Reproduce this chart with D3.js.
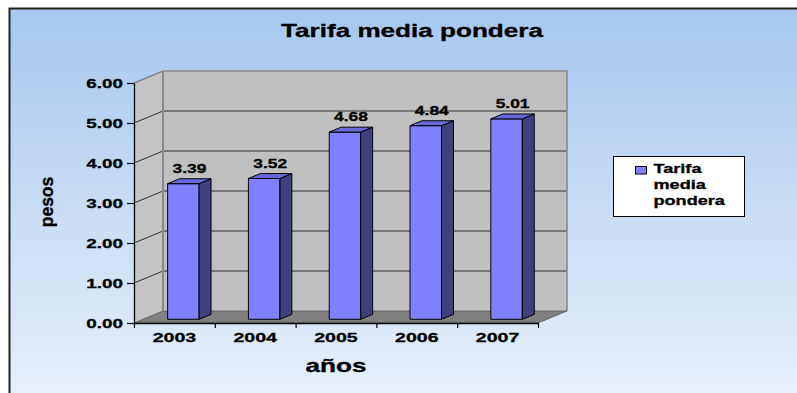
<!DOCTYPE html>
<html><head><meta charset="utf-8">
<script src="https://cdn.jsdelivr.net/npm/d3@7"></script>
<style>html,body{margin:0;padding:0;background:#fff;overflow:hidden}</style>
</head><body><svg id="chart" width="797" height="393"></svg>
<script>
// ---- data ----
const years = ["2003", "2004", "2005", "2006", "2007"];
const tarifa = [3.39, 3.52, 4.68, 4.84, 5.01];
const yTicks = [0, 1, 2, 3, 4, 5, 6];
const chartTitle = "Tarifa media pondera";
const legendLines = ["Tarifa", "media", "pondera"];
const xTitle = "años";
const yTitle = "pesos";

// ---- setup ----
const W = 797, H = 393;
const svg = d3.select("#chart");
const FONT = "'Liberation Sans', Arial, sans-serif";
const SX = 1.45; // wide lettering
const HEAVY = 0.3; // extra stroke on bold text

const defs = svg.append("defs");
const grad = defs.append("linearGradient").attr("id", "bg")
  .attr("gradientUnits", "userSpaceOnUse")
  .attr("x1", 0).attr("y1", 9).attr("x2", 0).attr("y2", H);
grad.append("stop").attr("offset", 0).attr("stop-color", "#a6c8ef");
grad.append("stop").attr("offset", 1).attr("stop-color", "#e7effa");

svg.append("rect").attr("x", 9.5).attr("y", 8.5).attr("width", W).attr("height", H)
  .attr("fill", "url(#bg)").attr("stroke", "#222").attr("stroke-width", 2);

function heavy(sel) {
  return sel.style("font-family", FONT).style("font-weight", "bold")
    .attr("fill", "#000").attr("stroke", "#000").attr("stroke-width", HEAVY);
}

function label(g, x, y, s, size, anchor) {
  return heavy(g.append("text")
    .attr("transform", `translate(${x},${y}) scale(${SX},1)`)
    .attr("text-anchor", anchor || "middle")
    .style("font-size", size + "px").text(s));
}

// ---- plot geometry (front plane + depth offset) ----
const plot = { left: 134, right: 538, top: 83, bottom: 323 };
const depth = { dx: 29, dy: 12 };
const x = d3.scaleBand().domain(years).range([plot.left, plot.right]);
const y = d3.scaleLinear().domain([0, 6]).range([plot.bottom, plot.top]);
const P = (px, py, f) => [px + depth.dx * f, py - depth.dy * f];
const poly = pts => "M" + pts.map(p => p.join(",")).join("L") + "Z";

const L = plot.left, R = plot.right, yTop = y(6), yBot = y(0);

// walls
const walls = svg.append("g");
walls.append("path").attr("d", poly([P(L, yTop, 1), P(R, yTop, 1), P(R, yBot, 1), P(L, yBot, 1)]))
  .attr("fill", "#c0c0c0");
walls.append("path").attr("d", poly([P(L, yTop, 0), P(L, yTop, 1), P(L, yBot, 1), P(L, yBot, 0)]))
  .attr("fill", "#c4c4c4");

// gridlines on side and back walls
const grid = svg.append("g").attr("stroke", "#333").attr("stroke-width", 1).attr("fill", "none");
yTicks.filter(v => v > 0 && v < 6).forEach(v => {
  grid.append("path").attr("d", "M" + P(L, y(v), 0) + "L" + P(L, y(v), 1) + "L" + P(R, y(v), 1));
});

// wall edges
const edges = svg.append("g").attr("stroke", "#888").attr("fill", "none");
edges.append("path").attr("stroke-width", 1.5)
  .attr("d", "M" + P(L, yTop, 0) + "L" + P(L, yTop, 1) + "L" + P(R, yTop, 1) + "L" + P(R, yBot, 1));
edges.append("path").attr("stroke-width", 2)
  .attr("d", "M" + P(L, yTop, 1) + "L" + P(L, yBot, 1));

// floor
svg.append("path").attr("d", poly([P(L, yBot, 0), P(R, yBot, 0), P(R, yBot, 1), P(L, yBot, 1)]))
  .attr("fill", "#808080").attr("stroke", "#555").attr("stroke-width", 0.8);

// ---- bars ----
const f0 = 0.31, f1 = 0.72;
const barW = x.bandwidth() * 0.39;
const bars = svg.append("g").attr("stroke", "#000").attr("stroke-width", 1).attr("stroke-linejoin", "round");
years.forEach((yr, i) => {
  const v = tarifa[i];
  const x0 = x(yr) + (x.bandwidth() - barW) / 2, x1 = x0 + barW;
  const yv = y(v);
  bars.append("path").attr("fill", "#8080ff")
    .attr("d", poly([P(x0, yv, f0), P(x1, yv, f0), P(x1, yBot, f0), P(x0, yBot, f0)]));
  bars.append("path").attr("fill", "#40407f")
    .attr("d", poly([P(x1, yv, f0), P(x1, yv, f1), P(x1, yBot, f1), P(x1, yBot, f0)]));
  bars.append("path").attr("fill", "#6868d8")
    .attr("d", poly([P(x0, yv, f0), P(x1, yv, f0), P(x1, yv, f1), P(x0, yv, f1)]));
  const top = P(x0 + barW / 2, yv, f1);
  label(svg, x0 + barW / 2 + depth.dx * f0 + 6, top[1] - 6, d3.format(".2f")(v), 12);
});

// ---- axes ----
const yAxis = svg.append("g").attr("transform", `translate(${L},0)`)
  .call(d3.axisLeft(y).tickValues(yTicks).tickFormat(d3.format(".2f")).tickSize(7).tickPadding(4).tickSizeOuter(0));
yAxis.select(".domain").attr("stroke", "#000").attr("stroke-width", 1.3);
yAxis.selectAll(".tick line").attr("stroke", "#000").attr("stroke-width", 1.2);
heavy(yAxis.selectAll(".tick text")
  .attr("x", -11 / SX).attr("transform", `scale(${SX},1)`)
  .style("font-size", "13px"));

const boundary = d3.scaleLinear().domain([0, years.length]).range([L, R]);
const xTicksAxis = svg.append("g").attr("transform", `translate(0,${yBot})`)
  .call(d3.axisBottom(boundary).ticks(years.length).tickFormat("").tickSize(5).tickSizeOuter(0));
xTicksAxis.select(".domain").attr("stroke", "#000").attr("stroke-width", 1.3);
xTicksAxis.selectAll(".tick line").attr("stroke", "#000").attr("stroke-width", 1.2);

const xAxis = svg.append("g").attr("transform", `translate(0,${yBot})`)
  .call(d3.axisBottom(x).tickSize(0).tickPadding(9));
xAxis.select(".domain").remove();
heavy(xAxis.selectAll(".tick text").attr("transform", `scale(${SX},1)`)
  .style("font-size", "13.5px"));

// ---- titles ----
label(svg, 412, 37, chartTitle, 18);
label(svg, (L + R) / 2, 372, xTitle, 18);
heavy(svg.append("text").attr("transform", "translate(53,202) rotate(-90)")
  .attr("text-anchor", "middle")
  .style("font-size", "17.5px")
  .text(yTitle));

// ---- legend ----
const lg = svg.append("g");
lg.append("rect").attr("x", 613.5).attr("y", 156.5).attr("width", 131).attr("height", 60)
  .attr("fill", "#fff").attr("stroke", "#000").attr("stroke-width", 1);
lg.append("rect").attr("x", 635.5).attr("y", 166.5).attr("width", 11).attr("height", 7.5)
  .attr("fill", "#8080ff").attr("stroke", "#000").attr("stroke-width", 1);
legendLines.forEach((t, i) => label(lg, 653.5, 173 + i * 16, t, 12.5, "start"));
</script>
</body></html>
